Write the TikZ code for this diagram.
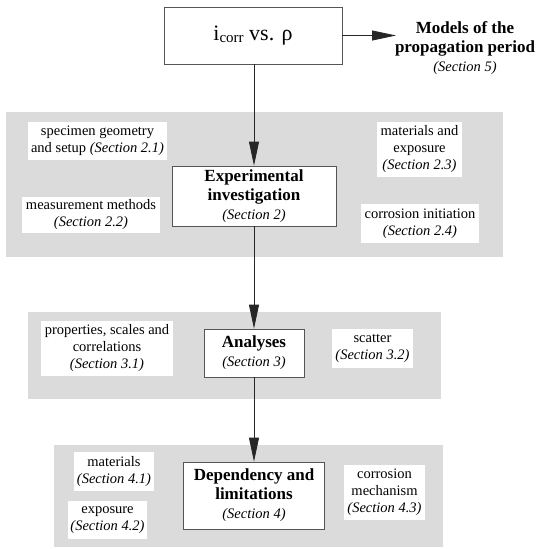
\documentclass[tikz,border=0pt]{standalone}
\usepackage{fontspec}
\setmainfont{Liberation Serif}
\usetikzlibrary{arrows.meta}
\definecolor{panelgray}{RGB}{219,219,219}
\definecolor{boxgray}{RGB}{85,85,85}
\newcommand\myreg{\fontsize{14.5}{17}\selectfont}
\newcommand\myhd{\fontsize{17}{19}\selectfont\bfseries}
\newcommand\mysec{\fontsize{14.5}{17}\selectfont\mdseries\itshape}
\begin{document}
\begin{tikzpicture}[x=1pt,y=-1pt,
  mainbox/.style={draw=boxgray,line width=0.8pt,fill=white,align=center,inner sep=0pt},
  subbox/.style={fill=white,align=center,inner sep=0pt,font=\myreg},
  conn/.style={draw=black!85,line width=0.8pt,-{Triangle[length=24pt,width=10pt]}}]
\useasboundingbox (0,0) rectangle (536,549);
\fill[white] (0,0) rectangle (536,549);
% grey panels
\fill[panelgray] (6,112) rectangle (503,257);
\fill[panelgray] (28,312) rectangle (441,399);
\fill[panelgray] (54,445) rectangle (443,547);
% top
\node[mainbox, minimum width=178pt, minimum height=57pt] (top) at (253,35.5)
  {\fontsize{22}{26}\selectfont i\raisebox{-2.5pt}{\fontsize{15}{15}\selectfont corr} vs. ρ};
\node[align=center, inner sep=0pt, font=\myhd] (models) at (465,48.5)
  {Models of the\\propagation period\\{\mysec (Section 5)}};
\coordinate (mtip) at (396,35.5);
% section 2
\node[mainbox, font=\myhd, minimum width=164pt, minimum height=60pt] (exp) at (254,196)
  {Experimental\\investigation\\{\mysec (Section 2)}};
\node[subbox, minimum width=139pt, minimum height=38pt] (spec) at (97.5,141)
  {specimen geometry\\and setup {\mysec (Section 2.1)}};
\node[subbox, minimum width=138pt, minimum height=36pt] (meas) at (91,215)
  {measurement methods\\{\mysec (Section 2.2)}};
\node[subbox, minimum width=85pt, minimum height=55pt] (matexp) at (419.5,149.5)
  {materials and\\exposure\\{\mysec (Section 2.3)}};
\node[subbox, minimum width=118pt, minimum height=39pt] (corrinit) at (420,223.5)
  {corrosion initiation\\{\mysec (Section 2.4)}};
% section 3
\node[mainbox, font=\myhd, minimum width=100pt, minimum height=48pt] (ana) at (254,353)
  {Analyses\\{\mysec (Section 3)}};
\node[subbox, minimum width=132pt, minimum height=55pt] (props) at (107,348.5)
  {properties, scales and\\correlations\\{\mysec (Section 3.1)}};
\node[subbox, minimum width=81pt, minimum height=39pt] (scat) at (372.5,348.5)
  {scatter\\{\mysec (Section 3.2)}};
% section 4
\node[mainbox, font=\myhd, minimum width=141pt, minimum height=67pt] (dep) at (254,495.5)
  {Dependency and\\limitations\\{\mysec (Section 4)}};
\node[subbox, minimum width=80pt, minimum height=39pt] (mat) at (114,471.5)
  {materials\\{\mysec (Section 4.1)}};
\node[subbox, minimum width=79pt, minimum height=38pt] (expo) at (107.5,520)
  {exposure\\{\mysec (Section 4.2)}};
\node[subbox, minimum width=81pt, minimum height=55pt] (mech) at (384.5,492.5)
  {corrosion\\mechanism\\{\mysec (Section 4.3)}};
% connectors
\draw[conn] (top.east) -- (mtip);
\draw[conn] (exp.north |- top.south) -- (exp.north);
\draw[conn] (exp.south) -- (ana.north);
\draw[conn] (ana.south) -- (dep.north);
\end{tikzpicture}
\end{document}
